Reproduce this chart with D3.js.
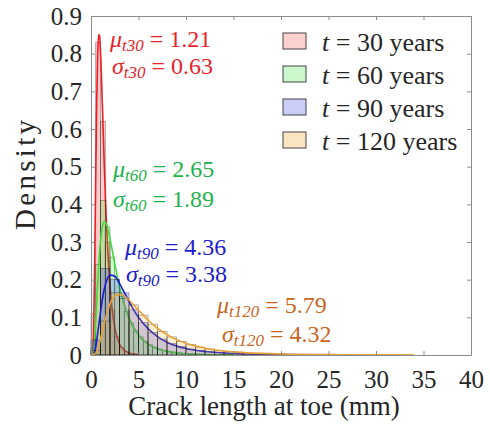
<!DOCTYPE html>
<html>
<head>
<meta charset="utf-8">
<script src="https://cdn.jsdelivr.net/npm/d3@7"></script>
<style>
  body { margin: 0; background: #fff; }
  svg text { font-family: "Liberation Serif", "Times New Roman", serif; }
  .frame path, .frame line { stroke: #8c8c8c; }
  .tickText text { fill: #262626; font-size: 25px; }
</style>
</head>
<body>
<svg id="chart" width="490" height="426"></svg>
<script>
// series
const seriesNames = ["30", "60", "90", "120"];
const muLabels = ["1.21", "2.65", "4.36", "5.79"];
const sigmaLabels = ["0.63", "1.89", "3.38", "4.32"];

// histograms (pdf normalised), bin width in mm, bins start at 0
const binWidth = [0.5, 0.5, 1, 1];
const hist30 = [0.11, 0.83, 0.62, 0.30, 0.12, 0.05, 0.02, 0.009, 0.004, 0.002];
const hist60 = [0.02, 0.24, 0.41, 0.34, 0.26, 0.20, 0.155, 0.115, 0.085, 0.064, 0.048, 0.036, 0.027, 0.021, 0.016,
  0.012, 0.009, 0.007, 0.0055, 0.0043, 0.0034, 0.0027, 0.0021, 0.0017, 0.0014, 0.0011, 0.0009, 0.0007, 0.0006, 0.0005];
const hist90 = [0.04, 0.23, 0.20, 0.165, 0.12, 0.086, 0.06, 0.042, 0.031, 0.022, 0.016, 0.012, 0.0088, 0.0066, 0.005,
  0.0038, 0.0029, 0.0022, 0.0017, 0.0013, 0.001, 0.0008, 0.0006, 0.0005, 0.0004];
const hist120 = [0.012, 0.09, 0.165, 0.15, 0.133, 0.106, 0.082, 0.063, 0.048, 0.036, 0.028, 0.021, 0.016, 0.0125, 0.0097,
  0.0076, 0.006, 0.0047, 0.0037, 0.0029, 0.0023, 0.0019, 0.0015, 0.0012, 0.001, 0.0008, 0.0007, 0.0006, 0.0005, 0.0004,
  0.0003, 0.0003, 0.0002, 0.0002];

// fitted curves
const fitX30 = [0, 0.1, 0.2, 0.3, 0.4, 0.5, 0.6, 0.7, 0.8, 0.9, 1.0, 1.2, 1.4, 1.6, 1.8, 2.0, 2.5, 3, 3.5, 4, 5];
const fitY30 = [0, 0, 0.011, 0.092, 0.267, 0.482, 0.670, 0.795, 0.850, 0.848, 0.806, 0.661, 0.502, 0.365, 0.259, 0.182,
  0.073, 0.030, 0.013, 0.0055, 0.001];
const fitX60 = [0, 0.2, 0.4, 0.6, 0.8, 1.0, 1.2, 1.4, 1.6, 1.8, 2.0, 2.5, 3, 3.5, 4, 5, 6, 7, 8, 10, 12, 15];
const fitY60 = [0, 0.003, 0.049, 0.142, 0.235, 0.303, 0.341, 0.354, 0.349, 0.332, 0.309, 0.242, 0.182, 0.134, 0.098,
  0.053, 0.029, 0.0165, 0.0096, 0.0036, 0.0014, 0.0004];
const fitX90 = [0, 0.25, 0.5, 0.75, 1, 1.25, 1.5, 1.75, 2, 2.5, 3, 3.5, 4, 5, 6, 7, 8, 10, 12, 15, 20, 25];
const fitY90 = [0, 0.0016, 0.022, 0.066, 0.114, 0.156, 0.186, 0.204, 0.212, 0.209, 0.190, 0.166, 0.142, 0.100, 0.070,
  0.049, 0.034, 0.017, 0.0093, 0.0039, 0.0011, 0.0004];
const fitX120 = [0, 0.5, 1, 1.5, 2, 2.5, 3, 3.5, 4, 5, 6, 7, 8, 10, 12, 15, 20, 25, 30, 34];
const fitY120 = [0, 0.0044, 0.042, 0.095, 0.135, 0.156, 0.161, 0.157, 0.146, 0.119, 0.093, 0.071, 0.054, 0.031, 0.018,
  0.0084, 0.0027, 0.001, 0.0004, 0.0002];

const xTicks = [0, 5, 10, 15, 20, 25, 30, 35, 40];
const yTicks = [0, 0.1, 0.2, 0.3, 0.4, 0.5, 0.6, 0.7, 0.8, 0.9];

const hists = [hist30, hist60, hist90, hist120];
const fitsX = [fitX30, fitX60, fitX90, fitX120];
const fitsY = [fitY30, fitY60, fitY90, fitY120];

const fillCol = ["#ff0000", "#00ff00", "#0000ff", "#edb120"];
const lineCol = ["#ee1c24", "#3ddc3d", "#1c1cd2", "#eaa236"];
const textCol = ["#e8242a", "#22b24c", "#2020cc", "#c8661e"];
const legendFill = ["#fdd0d0", "#ccf6cc", "#cccdf7", "#f9e5c0"];

const margin = { top: 16, right: 19, bottom: 71, left: 91 };
const W = 490, H = 426;
const FONT = '"Liberation Serif", "Times New Roman", serif';

const x = d3.scaleLinear().domain([0, 40]).range([margin.left, W - margin.right]);
const y = d3.scaleLinear().domain([0, 0.9]).range([H - margin.bottom, margin.top]);

const svg = d3.select("#chart");

// histograms + fits, drawn in order so later bars tint earlier curves
const line = d3.line().x((d) => x(d[0])).y((d) => y(d[1])).curve(d3.curveMonotoneX);

hists.forEach((h, k) => {
  const g = svg.append("g");
  g.selectAll("rect")
    .data(h)
    .enter()
    .append("rect")
    .attr("x", (d, i) => x(i * binWidth[k]))
    .attr("width", (d, i) => x((i + 1) * binWidth[k]) - x(i * binWidth[k]))
    .attr("y", (d) => y(d))
    .attr("height", (d) => y(0) - y(d))
    .attr("fill", fillCol[k])
    .attr("fill-opacity", 0.2)
    .attr("stroke", "#000")
    .attr("stroke-opacity", 0.5)
    .attr("stroke-width", 0.6);

  const pts = fitsX[k].map((v, i) => [v, fitsY[k][i]]);
  g.append("path")
    .attr("d", line(pts))
    .attr("fill", "none")
    .attr("stroke", lineCol[k])
    .attr("stroke-width", 1.6);
});

// frame with inward ticks
const xAxisG = svg.append("g")
  .attr("class", "frame tickText")
  .attr("transform", `translate(0,${y(0)})`)
  .call(d3.axisBottom(x).tickValues(xTicks).tickSizeInner(-4).tickSizeOuter(0).tickPadding(15).tickFormat(d3.format("d")));

const yAxisG = svg.append("g")
  .attr("class", "frame tickText")
  .attr("transform", `translate(${x(0)},0)`)
  .call(d3.axisLeft(y).tickValues(yTicks).tickSizeInner(-4).tickSizeOuter(0).tickPadding(9)
    .tickFormat((d) => (d === 0 ? "0" : d3.format(".1f")(d))));

[xAxisG, yAxisG].forEach((g) => {
  g.attr("font-family", null).attr("font-size", null);
  g.selectAll("text").style("font-family", FONT).style("font-size", "25px");
});

svg.append("g")
  .attr("class", "frame")
  .attr("transform", `translate(0,${y(0.9)})`)
  .call(d3.axisTop(x).tickValues(xTicks).tickSizeInner(-4).tickSizeOuter(0).tickFormat(""));

svg.append("g")
  .attr("class", "frame")
  .attr("transform", `translate(${x(40)},0)`)
  .call(d3.axisRight(y).tickValues(yTicks).tickSizeInner(-4).tickSizeOuter(0).tickFormat(""));

// axis labels
svg.append("text")
  .attr("x", 264)
  .attr("y", 415)
  .attr("text-anchor", "middle")
  .attr("font-size", 27)
  .attr("fill", "#262626")
  .text("Crack length at toe (mm)");

svg.append("text")
  .attr("transform", "translate(35,175) rotate(-90)")
  .attr("text-anchor", "middle")
  .attr("font-size", 29)
  .attr("textLength", 110)
  .attr("lengthAdjust", "spacing")
  .attr("fill", "#262626")
  .text("Density");

// mu / sigma annotations
const annPos = [
  [[110, 47], [112, 74]],
  [[113, 177], [113, 207]],
  [[125, 255], [126, 282]],
  [[217, 313], [222, 342]],
];

function annot(px, py, sym, k, val) {
  const t = svg.append("text")
    .attr("x", px)
    .attr("y", py)
    .attr("font-size", 24)
    .attr("fill", textCol[k]);
  t.append("tspan").attr("font-style", "italic").text(sym);
  t.append("tspan").attr("font-style", "italic").attr("font-size", 17).attr("dy", 4).text("t" + seriesNames[k]);
  t.append("tspan").attr("dy", -4).text(" = " + val);
}

seriesNames.forEach((s, k) => {
  annot(annPos[k][0][0], annPos[k][0][1], "μ", k, muLabels[k]);
  annot(annPos[k][1][0], annPos[k][1][1], "σ", k, sigmaLabels[k]);
});

// legend
const leg = svg.append("g").attr("transform", "translate(283,33)");
seriesNames.forEach((s, k) => {
  const row = leg.append("g").attr("transform", `translate(0,${k * 33})`);
  row.append("rect")
    .attr("width", 23)
    .attr("height", 16)
    .attr("fill", legendFill[k])
    .attr("stroke", "#444")
    .attr("stroke-width", 1);
  const t = row.append("text")
    .attr("x", 39)
    .attr("y", 18)
    .attr("font-size", 26)
    .attr("fill", "#262626");
  t.append("tspan").attr("font-style", "italic").text("t");
  t.append("tspan").text(" = " + s + " years");
});
</script>
</body>
</html>
